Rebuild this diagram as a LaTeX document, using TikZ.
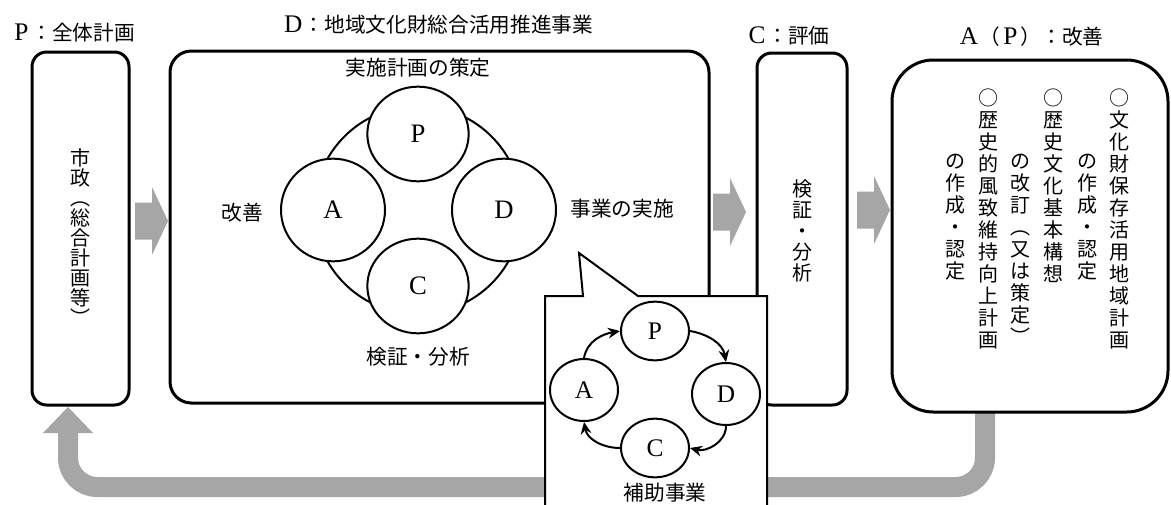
\documentclass[tikz,border=0pt]{standalone}
\usepackage{fontspec}
\setmainfont{Noto Sans CJK JP}
\newfontfamily\lat{Liberation Serif}
\usetikzlibrary{shapes.geometric,arrows.meta}

\definecolor{arrowgray}{RGB}{166,166,166}

% vertical (tate) text: one character per line
\newcommand\tate[2][15pt]{\vbox{\baselineskip=#1\lineskiplimit=-\maxdimen\tateA#2\relax}}
\def\tateA#1{\ifx#1\relax\else\hbox to 1em{\hss#1\hss}\expandafter\tateA\fi}
% full-width latin letter in headings
\newcommand\ltr[1]{\makebox[1em]{\lat\fontsize{19}{18}\selectfont #1}}

\tikzset{every picture/.style={line width=0.75pt}}
\tikzset{
	box/.style={draw, line width=2.25pt, rounded corners=11pt, inner sep=0pt},
	heading/.style={inner sep=0pt, font=\fontsize{15.5}{18}\selectfont},
	txt/.style={inner sep=0pt, font=\fontsize{15.5}{18}\selectfont},
	vtxt/.style={inner sep=0pt, font=\fontsize{15}{15}\selectfont},
	ring/.style={circle, draw, fill=white, line width=1.5pt, minimum size=156pt, inner sep=0pt},
	phase/.style={ellipse, draw, fill=white, line width=1.5pt, minimum width=76pt, minimum height=71pt, inner sep=0pt, font=\lat\fontsize{20}{20}\selectfont},
	stage/.style={ellipse, draw, fill=white, line width=1.5pt, minimum width=51pt, minimum height=44pt, inner sep=0pt, font=\lat\fontsize{19}{19}\selectfont},
	bubble/.style={draw, fill=white, line width=1.5pt},
	cyc/.style={line width=1.5pt, -{Stealth[length=9pt,width=8pt]}},
	backflow/.style={draw=arrowgray, line width=15pt, rounded corners=22pt},
	garrow/.pic={\fill [arrowgray] (0,-18.5) -- (17,-18.5) -- (17,-34) -- (33,0) -- (17,34) -- (17,18.5) -- (0,18.5) -- cycle ;}
}

\begin{document}
\begin{tikzpicture}[x=0.75pt,y=0.75pt,yscale=-1,xscale=1]
	\useasboundingbox (0,0) rectangle (1171,504);
	
	%Return arrow
	\coordinate (retA) at (985,412);
	\coordinate (retP) at (68,433);
	\draw [backflow] (retA) -- (985,487) -- (68,487) -- (retP) ;
	\fill [arrowgray] (43,433) -- (93,433) -- (68,407) -- cycle ;
	
	%Boxes
	\node [box, minimum width=72.75pt, minimum height=264.75pt] (plan) at (80.5,228.5) {};
	\node [box, rounded corners=16pt, minimum width=404.25pt, minimum height=264pt] (project) at (439.5,227) {};
	\node [box, minimum width=67.5pt, minimum height=264pt] (check) at (802,229) {};
	\node [box, rounded corners=31pt, minimum width=207pt, minimum height=264pt] (improve) at (1030,236) {};
	
	%Headings
	\node [heading] (planhead) at (73,33) {\ltr{P}：全体計画};
	\node [heading] (projecthead) at (438,25) {\ltr{D}：地域文化財総合活用推進事業};
	\node [heading] (checkhead) at (788,36) {\ltr{C}：評価};
	\node [heading] (improvehead) at (1031,37) {\ltr{A}（\ltr{P}）：改善};
	
	%Block arrows
	\pic at (135,221) {garrow};
	\pic at (713,212) {garrow};
	\pic at (857,210) {garrow};
	
	%Vertical texts
	\node [vtxt] (plancol) at (80,237) {\tate[15pt]{市政︵総合計画等︶}};
	\node [vtxt] (checkcol) at (802,231) {\tate[15.75pt]{検証・分析}};
	\node [vtxt, anchor=north] (colA) at (1119,88) {\tate[16.5pt]{○文化財保存活用地域計画}};
	\node [vtxt, anchor=north] (colB) at (1087,154) {\tate[16.5pt]{の作成・認定}};
	\node [vtxt, anchor=north] (colC) at (1053,88) {\tate[16.5pt]{○歴史文化基本構想}};
	\node [vtxt, anchor=north] (colD) at (1020,154) {\tate[16.5pt]{の改訂︵又は策定︶}};
	\node [vtxt, anchor=north] (colE) at (988,88) {\tate[16.5pt]{○歴史的風致維持向上計画}};
	\node [vtxt, anchor=north] (colF) at (955,154) {\tate[16.5pt]{の作成・認定}};
	
	%PDCA of the project
	\node [ring] (cycle) at (418,210) {};
	\node [phase] (bigP) at (418,134) {P};
	\node [phase, minimum width=78pt, minimum height=77pt] (bigA) at (333,210) {A};
	\node [phase, minimum width=78pt, minimum height=77pt] (bigD) at (504,210) {D};
	\node [phase] (bigC) at (418,286) {C};
	\node [txt] (plantext) at (418,68) {実施計画の策定};
	\node [txt] (acttext) at (242,213) {改善};
	\node [txt] (dotext) at (622,209) {事業の実施};
	\node [txt] (checktext) at (418,357) {検証・分析};
	
	%Callout
	\draw [bubble] (545,296) -- (583,296) -- (579,253) -- (638,296) -- (767,296) -- (767,520) -- (545,520) -- cycle ;
	\node [stage] (sP) at (655,331) {P};
	\node [stage, minimum height=46.5pt] (sA) at (584,390) {A};
	\node [stage, minimum height=46.5pt] (sD) at (726,394) {D};
	\node [stage] (sC) at (655,448) {C};
	\draw [cyc] (sP.east) to [out=10,in=-100] (sD.north) ;
	\draw [cyc] (sD.south) to [out=90,in=15] (sC.east) ;
	\draw [cyc] (sC.west) to [out=180,in=80] (sA.south) ;
	\draw [cyc] (sA.north) to [out=-80,in=170] (sP.west) ;
	\node [txt] (subsidy) at (665,493) {補助事業};
	
\end{tikzpicture}
\end{document}
